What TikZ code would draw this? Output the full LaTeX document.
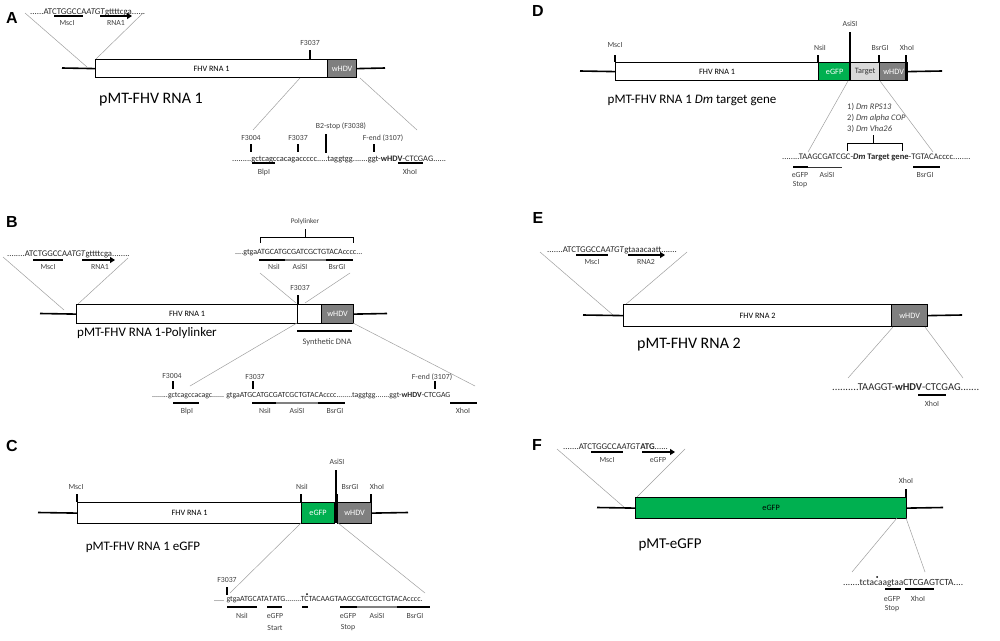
\documentclass[tikz,border=0pt]{standalone}
\usepackage{fontspec}
\setmainfont{Carlito}
\newfontfamily\panelfont{Liberation Sans}
\usetikzlibrary{arrows.meta}
\definecolor{egfp}{HTML}{00B050}
\definecolor{hdv}{HTML}{7F7F7F}
\definecolor{tgt}{HTML}{D9D9D9}
\definecolor{txt}{HTML}{404040}
\newcommand{\fs}[1]{\fontsize{#1}{#1}\selectfont}
\tikzset{
 bb/.style={line width=1.6pt},
 box/.style={draw, line width=1.2pt, inner sep=0pt, anchor=north west, font=\fs{8.2}},
 conn/.style={draw=gray!75, line width=0.5pt},
 tk/.style={line width=1.6pt},
 bar/.style={line width=2pt},
 gbar/.style={line width=2pt, draw=gray},
 lab/.style={font=\fs{7.8}, text=txt, inner sep=0pt},
 seq/.style={font=\fs{8}, text=black!85, inner sep=0pt, anchor=west},
 ttl/.style={font=\fs{13}, inner sep=0pt},
 pnl/.style={font=\panelfont\bfseries\fs{16}, inner sep=0pt},
 arr/.style={line width=2pt, -{Triangle[length=5pt,width=6pt]}},
}
\begin{document}
\begin{tikzpicture}[x=1pt,y=-1pt]
\useasboundingbox (0,0) rectangle (1000,640);

%% ================= PANEL A =================
\node[pnl] (pA) at (12,18) {A};
\node[seq, font=\fs{8.8}] (Aseq1) at (30,12) {......ATCTGGCCA\textit{ATGT}gttttcga......};
\draw[bar] (54,16) -- (83,16);
\draw[arr] (100,16) -- (132,16);
\node[lab] (AmscI) at (67,23) {MscI};
\node[lab] (Arna1) at (116,23) {RNA1};
\node[box, fill=white, minimum width=232pt, minimum height=18pt] (Abox) at (95,59) {FHV RNA 1};
\node[box, fill=hdv, text=white, minimum width=29pt, minimum height=18pt] (Ahdv) at (327,59) {wHDV};
\draw[bb] (62,68) coordinate (Al) -- (Abox.west);
\draw[bb] (Ahdv.east) -- (385,68) coordinate (Ar);
\draw[conn] (25,13) coordinate (Ai1) -- (87,67) coordinate (Ai2);
\draw[conn] (143,13) coordinate (Ai3) -- (96,59) coordinate (Ai4);
\draw[tk] (310,50) -- (310,59);
\node[lab] (AF3037) at (310,43) {F3037};
\node[ttl, font=\fs{16}] (Attl) at (151,100) {pMT-FHV RNA 1};
\draw[conn] (300,78) coordinate (Ab1) -- (253,130) coordinate (Ab2);
\draw[conn] (360,78) coordinate (Ab3) -- (417,130) coordinate (Ab4);
\node[seq, font=\fs{8.4}] (Aseq2) at (232,159) {.........gctcagccacagaccccc.....taggtgg.......ggt-\textbf{wHDV}-CTCGAG......};
\node[lab] (AF3004b) at (251,138) {F3004};
\draw[tk] (251,144) -- (251,152);
\node[lab] (AF3037b) at (298,138) {F3037};
\draw[tk] (298,144) -- (298,152);
\node[lab] (AB2) at (341,126) {B2-stop (F3038)};
\draw[tk] (326,134) -- (326,153);
\node[lab] (AFend) at (383,138) {F-end (3107)};
\draw[tk] (374,144) -- (374,152);
\draw[bar] (252,163) -- (275,163);
\node[lab] (Ablp) at (264,172) {BlpI};
\draw[bar] (398,163) -- (423,163);
\node[lab] (Axho) at (410,172) {XhoI};

%% ================= PANEL B =================
\node[pnl] (pB) at (12,222) {B};
\node[seq, font=\fs{8.7}] (Bseq1) at (7,254) {........ATCTGGCCA\textit{ATGT}gttttcga........};
\draw[bar] (33,260) -- (63,260);
\draw[arr] (82,260) -- (115,260);
\node[lab] (Bmsc) at (48,267) {MscI};
\node[lab] (Brna) at (100,267) {RNA1};
\draw[conn] (3,257) coordinate (Bi1) -- (64,310) coordinate (Bi2);
\draw[conn] (128,258) coordinate (Bi3) -- (78,304) coordinate (Bi4);
\node[box, fill=white, minimum width=221pt, minimum height=19pt] (Bbox) at (76,304) {FHV RNA 1};
\node[box, fill=white, minimum width=24pt, minimum height=19pt] (Bpl) at (297,304) {};
\node[box, fill=hdv, text=white, minimum width=32pt, minimum height=19pt] (Bhdv) at (321,304) {wHDV};
\draw[bb] (40,313.5) coordinate (Bl) -- (Bbox.west);
\draw[bb] (Bhdv.east) -- (387,313.5) coordinate (Br);
\draw[tk] (298,295) -- (298,304);
\node[lab] (BF3037) at (300,288) {F3037};
\node[lab, font=\fs{7.2}] (Bpoly) at (305,222) {Polylinker};
\draw[line width=0.9pt] (260,243) -- (260,237) -- (353,237) -- (353,243) (305,237) -- (305,229);
\node[seq] (Bseq2) at (235,253) {....gtgaATGCATGCGATCGCTGTACAcccc...};
\draw[bar] (259,260) -- (285,260);
\draw[gbar] (285,260) -- (326,260);
\draw[bar] (326,260) -- (353,260);
\node[lab] (Bnsi) at (274,267) {NsiI};
\node[lab] (Basi) at (300,267) {AsiSI};
\node[lab] (Bbsr) at (337,267) {BsrGI};
\draw[conn] (260,273) coordinate (Bp1) -- (296,303) coordinate (Bp2);
\draw[conn] (350,273) coordinate (Bp3) -- (305,303) coordinate (Bp4);
\node[ttl] (Bttl) at (147,333) {pMT-FHV RNA 1-Polylinker};
\draw[bar] (297,331) -- (352,331);
\node[lab, font=\fs{8.4}] (Bsyn) at (327,342) {Synthetic DNA};
\draw[conn] (297,323) coordinate (Bb1) -- (190,386) coordinate (Bb2);
\draw[conn] (353,323) coordinate (Bb3) -- (475,386) coordinate (Bb4);
\node[seq, font=\fs{7.8}] (Bseq3) at (152,396) {........gctcagccacagc...... gtgaATGCATGCGATCGCTGTACAcccc........taggtgg.......ggt-\textbf{wHDV}-CTCGAG};
\node[lab] (BF3004b) at (172,376) {F3004};
\draw[tk] (173,381) -- (173,389);
\node[lab] (BF3037b) at (255,377) {F3037};
\draw[tk] (253,381) -- (253,389);
\node[lab] (BFend) at (432,377) {F-end (3107)};
\draw[tk] (435,381) -- (435,389);
\draw[bar] (173,403) -- (199,403);
\node[lab] (Bblp) at (187,411) {BlpI};
\draw[bar] (252,403) -- (276,403);
\draw[gbar] (276,403) -- (318,403);
\draw[bar] (318,403) -- (345,403);
\node[lab] (Bnsi2) at (265,411) {NsiI};
\node[lab] (Basi2) at (297,411) {AsiSI};
\node[lab] (Bbsr2) at (335,411) {BsrGI};
\draw[bar] (450,403) -- (477,403);
\node[lab] (Bxho) at (463,411) {XhoI};

%% ================= PANEL C =================
\node[pnl] (pC) at (12,446) {C};
\node[box, fill=white, minimum width=224pt, minimum height=21pt] (Cbox) at (77,502) {FHV RNA 1};
\node[box, fill=egfp, text=white, minimum width=33pt, minimum height=21pt] (Cgfp) at (301,502) {eGFP};
\node[box, fill=hdv, text=white, minimum width=34pt, minimum height=21pt] (Chdv) at (337,502) {wHDV};
\draw[bb] (38,512.5) coordinate (Cl) -- (Cbox.west);
\draw[bb] (Chdv.east) -- (408,512.5) coordinate (Cr);
\draw[tk] (77,494) -- (77,502);
\node[lab] (Cmsc) at (76,487) {MscI};
\draw[tk] (301,494) -- (301,502);
\node[lab] (Cnsi) at (302,487) {NsiI};
\draw[line width=2pt] (335.5,470) -- (335.5,523);
\node[lab] (Casi) at (337,462) {AsiSI};
\draw[tk] (337,494) -- (337,502);
\node[lab] (Cbsr) at (350,487) {BsrGI};
\draw[tk] (371,494) -- (371,502);
\node[lab] (Cxho) at (377,487) {XhoI};
\node[ttl] (Cttl) at (143,547) {pMT-FHV RNA 1 eGFP};
\draw[conn] (301,523) coordinate (Cb1) -- (230,593) coordinate (Cb2);
\draw[conn] (338,523) coordinate (Cb3) -- (425,593) coordinate (Cb4);
\node[lab] (CF3037) at (227,580) {F3037};
\draw[tk] (227,587) -- (227,595);
\node[seq, font=\fs{7.9}] (Cseq) at (214,600) {..... gtgaATGCATA\textit{T}ATG........TCTACAAGTAAGCGATCGCTGTACAcccc.};
\fill (307,594) circle (1pt);
\draw[bar] (227,607) -- (257,607);
\draw[bar] (267,607) -- (282,607);
\draw[bar] (302,607) -- (308,607);
\draw[bar] (340,607) -- (357,607);
\draw[gbar] (357,607) -- (397,607);
\draw[bar] (397,607) -- (430,607);
\node[lab] (Cnsi2) at (242,616) {NsiI};
\node[lab] (Cst1) at (275,616) {eGFP};
\node[lab] (Cst2) at (275,628) {Start};
\node[lab] (Csp1) at (348,616) {eGFP};
\node[lab] (Csp2) at (348,628) {Stop};
\node[lab] (Casi2) at (377,616) {AsiSI};
\node[lab] (Cbsr2) at (415,616) {BsrGI};

%% ================= PANEL D =================
\node[pnl] (pD) at (538,11) {D};
\node[box, fill=white, minimum width=203pt, minimum height=18pt] (Dbox) at (615,62) {FHV RNA 1};
\node[box, fill=egfp, text=white, minimum width=32pt, minimum height=18pt] (Dgfp) at (818,62) {eGFP};
\node[box, fill=tgt, text=black!80, minimum width=29pt, minimum height=18pt] (Dtgt) at (850,62) {Target};
\node[box, fill=hdv, text=white, minimum width=28pt, minimum height=18pt] (Dhdv) at (879,62) {wHDV};
\draw[bb] (580,71) coordinate (Dl) -- (Dbox.west);
\draw[bb] (Dhdv.east) -- (942,71) coordinate (Dr);
\draw[tk] (615,55) -- (615,62);
\node[lab] (Dmsc) at (615,45) {MscI};
\draw[tk] (818,55) -- (818,62);
\node[lab] (Dnsi) at (820,48) {NsiI};
\draw[line width=2pt] (850,32) -- (850,80);
\node[lab] (Dasi) at (850,24) {AsiSI};
\draw[tk] (879,55) -- (879,62);
\node[lab] (Dbsr) at (880,48) {BsrGI};
\draw[tk] (906,55) -- (906,80);
\node[lab] (Dxho) at (907,48) {XhoI};
\node[ttl] (Dttl) at (692,100) {pMT-FHV RNA 1 \textit{Dm} target gene};
\draw[conn] (848,81) coordinate (Db1) -- (808,152) coordinate (Db2);
\draw[conn] (880,81) coordinate (Db3) -- (933,152) coordinate (Db4);
\node[lab, anchor=west, font=\fs{8.5}] (Dl1) at (847,107) {1) \textit{Dm RPS13}};
\node[lab, anchor=west, font=\fs{8.5}] (Dl2) at (847,118) {2) \textit{Dm alpha COP}};
\node[lab, anchor=west, font=\fs{8.5}] (Dl3) at (847,129) {3) \textit{Dm Vha26}};
\draw[line width=0.9pt] (847,151) -- (847,143) -- (902,143) -- (902,151) (873,143) -- (873,135);
\node[seq, font=\fs{8.6}] (Dseq) at (782,157) {........TAAGCGATCGC-\textbf{\textit{Dm} Target gene}-TGTACAcccc........};
\draw[bar] (793,167) -- (808,167);
\draw[line width=1pt, draw=black!80] (808,167) -- (842,167);
\draw[bar] (913,167) -- (940,167);
\node[lab] (Dst1) at (800,175) {eGFP};
\node[lab] (Dst2) at (800,185) {Stop};
\node[lab] (Dasi2) at (827,175) {AsiSI};
\node[lab] (Dbsr2) at (925,175) {BsrGI};

%% ================= PANEL E =================
\node[pnl] (pE) at (538,218) {E};
\node[seq, font=\fs{8.8}] (Eseq1) at (547,250) {.......ATCTGGCCA\textit{ATGT}gtaaacaatt.......};
\draw[bar] (576,255) -- (608,255);
\draw[arr] (628,255) -- (665,255);
\node[lab] (Emsc) at (592,262) {MscI};
\node[lab] (Erna) at (646,262) {RNA2};
\draw[conn] (540,252) coordinate (Ei1) -- (613,315) coordinate (Ei2);
\draw[conn] (687,252) coordinate (Ei3) -- (625,305) coordinate (Ei4);
\node[box, fill=white, minimum width=268pt, minimum height=22pt] (Ebox) at (623,304) {FHV RNA 2};
\node[box, fill=hdv, text=white, minimum width=36pt, minimum height=22pt] (Ehdv) at (891,304) {wHDV};
\draw[bb] (583,315) coordinate (El) -- (Ebox.west);
\draw[bb] (Ehdv.east) -- (962,315) coordinate (Er);
\node[ttl, font=\fs{16}] (Ettl) at (689,345) {pMT-FHV RNA 2};
\draw[conn] (893,327) coordinate (Eb1) -- (848,378) coordinate (Eb2);
\draw[conn] (925,327) coordinate (Eb3) -- (963,378) coordinate (Eb4);
\node[seq, font=\fs{10.5}] (Eseq2) at (832,387) {..........TAAGGT-\textbf{wHDV}-CTCGAG.......};
\draw[bar] (918,395) -- (946,395);
\node[lab] (Exho) at (932,404) {XhoI};

%% ================= PANEL F =================
\node[pnl] (pF) at (537,445) {F};
\node[seq, font=\fs{8.8}] (Fseq1) at (563,447) {.......ATCTGGCCA\textit{ATGT}\textbf{ATG}......};
\draw[bar] (591,452) -- (623,452);
\draw[arr] (642,452) -- (675,452);
\node[lab] (Fmsc) at (607,460) {MscI};
\node[lab] (Fgfp) at (658,460) {eGFP};
\draw[conn] (557,449) coordinate (Fi1) -- (625,508) coordinate (Fi2);
\draw[conn] (685,449) coordinate (Fi3) -- (637,497) coordinate (Fi4);
\node[box, fill=egfp, minimum width=271pt, minimum height=21pt] (Fbox) at (635,497) {eGFP};
\draw[bb] (597,507.5) coordinate (Fl) -- (Fbox.west);
\draw[bb] (Fbox.east) -- (943,507.5) coordinate (Fr);
\draw[tk] (906,489) -- (906,497);
\node[lab] (Fxho) at (906,481) {XhoI};
\node[ttl, font=\fs{15}] (Fttl) at (670,545) {pMT-eGFP};
\draw[conn] (897,518) coordinate (Fb1) -- (852,572) coordinate (Fb2);
\draw[conn] (906,518) coordinate (Fb3) -- (925,572) coordinate (Fb4);
\node[seq, font=\fs{9.4}] (Fseq2) at (843,583) {.......tctacaagtaaCTCGAGTCTA....};
\fill (877,577) circle (1pt);
\draw[bar] (885,589) -- (901,589);
\draw[bar] (905,589) -- (934,589);
\node[lab] (Fst1) at (892,599) {eGFP};
\node[lab] (Fst2) at (892,609) {Stop};
\node[lab] (Fxho2) at (918,599) {XhoI};
\end{tikzpicture}
\end{document}
